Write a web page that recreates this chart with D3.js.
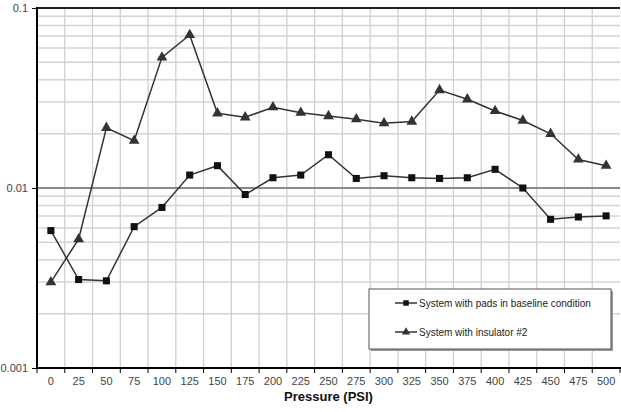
<!DOCTYPE html>
<html>
<head>
<meta charset="utf-8">
<script src="https://cdn.jsdelivr.net/npm/d3@7"></script>
<style>
    body { margin: 0; background: #fff; }
    text { font-family: "Liberation Sans", Arial, sans-serif; }
</style>
</head>
<body>
<script>
var pressures = ["0", "25", "50", "75", "100", "125", "150", "175", "200", "225", "250",
    "275", "300", "325", "350", "375", "400", "425", "450", "475", "500"];
var baseline = [0.0058, 0.0031, 0.00305, 0.0061, 0.0078, 0.0118, 0.0133, 0.0092, 0.0114, 0.0118, 0.0153,
    0.0113, 0.0117, 0.0114, 0.0113, 0.0114, 0.0127, 0.0100, 0.0067, 0.0069, 0.0070];
var insulator = [0.0030, 0.0052, 0.0216, 0.0183, 0.0532, 0.0708, 0.0260, 0.0247, 0.0281, 0.0262, 0.0251,
    0.0241, 0.0229, 0.0234, 0.0350, 0.0311, 0.0268, 0.0237, 0.0200, 0.0144, 0.0133];
var seriesNames = ["System with pads in baseline condition", "System with insulator #2"];
var yTicks = [0.001, 0.01, 0.1];

function init() {
    var w = 621;
    var h = 412;
    var left = 37, right = 620, top = 8, bottom = 368;

    var svg = d3.select("body")
        .append("svg")
        .attr("width", w)
        .attr("height", h);

    var x = d3.scaleBand()
        .domain(pressures)
        .range([left, right])
        .paddingInner(0)
        .paddingOuter(0);

    var y = d3.scaleLog()
        .domain([0.001, 0.1])
        .range([bottom, top]);

    // minor horizontal grid
    var minor = [];
    [0.001, 0.01].forEach(function (d) {
        for (var k = 2; k <= 9; k++) minor.push(d * k);
    });
    svg.selectAll(".minor")
        .data(minor)
        .enter()
        .append("line")
        .attr("x1", left).attr("x2", right)
        .attr("y1", function (d) { return y(d); })
        .attr("y2", function (d) { return y(d); })
        .attr("stroke", "#d4d4d4")
        .attr("stroke-width", 1.5);

    // vertical grid at category boundaries
    svg.selectAll(".vgrid")
        .data(pressures.slice(1))
        .enter()
        .append("line")
        .attr("x1", function (d) { return x(d); })
        .attr("x2", function (d) { return x(d); })
        .attr("y1", top).attr("y2", bottom)
        .attr("stroke", "#d0d0d0")
        .attr("stroke-width", 1.3);

    // major 0.01 line
    svg.append("line")
        .attr("x1", left).attr("x2", right)
        .attr("y1", y(0.01)).attr("y2", y(0.01))
        .attr("stroke", "#8a8a8a")
        .attr("stroke-width", 2);

    // top border
    svg.append("line")
        .attr("x1", left).attr("x2", right)
        .attr("y1", y(0.1)).attr("y2", y(0.1))
        .attr("stroke", "#222")
        .attr("stroke-width", 2);

    // x axis
    var xAxis = svg.append("g")
        .attr("transform", "translate(0," + bottom + ")")
        .call(d3.axisBottom(x).tickSize(0).tickPadding(9));
    xAxis.select(".domain").remove();
    xAxis.selectAll("text").attr("font-size", 11).attr("fill", "#444")
        .attr("font-family", "Liberation Sans, Arial, sans-serif");
    xAxis.selectAll(".tk")
        .data(pressures.concat(["end"]))
        .enter()
        .append("line")
        .attr("x1", function (d) { return d === "end" ? right : x(d); })
        .attr("x2", function (d) { return d === "end" ? right : x(d); })
        .attr("y1", 0).attr("y2", 5)
        .attr("stroke", "#000");
    svg.append("line")
        .attr("x1", left - 1).attr("x2", right + 1)
        .attr("y1", bottom).attr("y2", bottom)
        .attr("stroke", "#000").attr("stroke-width", 2);

    // y axis
    var yAxis = svg.append("g")
        .attr("transform", "translate(" + left + ",0)")
        .call(d3.axisLeft(y).tickValues(yTicks).tickFormat(d3.format("")).tickSize(5).tickPadding(4));
    yAxis.select(".domain").remove();
    yAxis.selectAll("text").attr("font-size", 11).attr("fill", "#444")
        .attr("font-family", "Liberation Sans, Arial, sans-serif");
    svg.append("line")
        .attr("x1", left).attr("x2", left)
        .attr("y1", top - 1).attr("y2", bottom + 1)
        .attr("stroke", "#000").attr("stroke-width", 2);

    svg.append("text")
        .attr("x", (left + right) / 2)
        .attr("y", 401)
        .attr("text-anchor", "middle")
        .attr("font-size", 13)
        .attr("font-weight", "bold")
        .attr("fill", "#111")
        .text("Pressure (PSI)");

    var cx = function (d, i) { return x(pressures[i]) + x.bandwidth() / 2; };
    var line = d3.line()
        .x(cx)
        .y(function (d) { return y(d); });

    svg.append("path")
        .datum(insulator)
        .attr("fill", "none")
        .attr("stroke", "#333")
        .attr("stroke-width", 1.5)
        .attr("d", line);
    svg.append("path")
        .datum(baseline)
        .attr("fill", "none")
        .attr("stroke", "#333")
        .attr("stroke-width", 1.5)
        .attr("d", line);

    var tri = d3.symbol().type(d3.symbolTriangle).size(50);
    var sq = d3.symbol().type(d3.symbolSquare).size(50);

    svg.selectAll(".tri")
        .data(insulator)
        .enter()
        .append("path")
        .attr("d", tri)
        .attr("fill", "#333")
        .attr("transform", function (d, i) { return "translate(" + cx(d, i) + "," + y(d) + ")"; });
    svg.selectAll(".sq")
        .data(baseline)
        .enter()
        .append("path")
        .attr("d", sq)
        .attr("fill", "#111")
        .attr("transform", function (d, i) { return "translate(" + cx(d, i) + "," + y(d) + ")"; });

    // legend
    var lg = svg.append("g").attr("transform", "translate(369,289)");
    lg.append("rect")
        .attr("x", 2).attr("y", 2)
        .attr("width", 242).attr("height", 60)
        .attr("fill", "#999");
    lg.append("rect")
        .attr("x", 0).attr("y", 0)
        .attr("width", 242).attr("height", 60)
        .attr("fill", "#fff")
        .attr("stroke", "#555")
        .attr("stroke-width", 1);
    var symbols = [sq, tri];
    seriesNames.forEach(function (name, i) {
        var ly = 14 + i * 29;
        lg.append("line")
            .attr("x1", 26).attr("x2", 48)
            .attr("y1", ly).attr("y2", ly)
            .attr("stroke", "#333").attr("stroke-width", 1.5);
        lg.append("path")
            .attr("d", symbols[i].size(i === 0 ? 30 : 30))
            .attr("fill", i === 0 ? "#111" : "#333")
            .attr("transform", "translate(37," + ly + ")");
        lg.append("text")
            .attr("x", 50).attr("y", ly + 4)
            .attr("font-size", 10)
            .attr("fill", "#222")
            .text(name);
    });
}

window.onload = init;
</script>
</body>
</html>
